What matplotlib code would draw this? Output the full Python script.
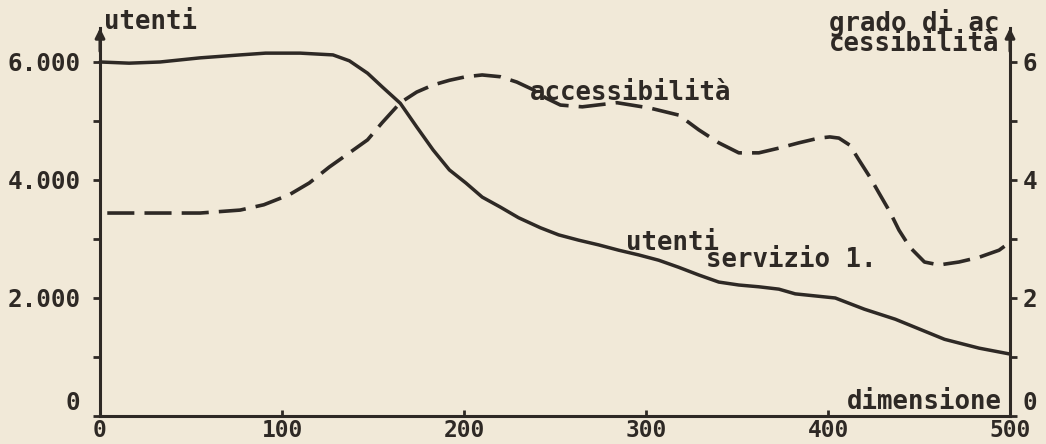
import matplotlib
matplotlib.use("Agg")
import matplotlib.pyplot as plt
from matplotlib.transforms import ScaledTranslation

# ---- data ----
dimensione_u = [0, 16, 33, 55, 77, 91, 110, 128, 137, 147, 155, 165, 174, 183, 192,
                201, 210, 220, 230, 242, 252, 263, 274, 285, 296, 307, 318, 329, 340,
                351, 362, 373, 382, 404, 420, 437, 464, 483, 500]
utenti = [6000, 5980, 6000, 6070, 6120, 6150, 6150, 6120, 6020, 5810, 5580, 5300,
          4900, 4510, 4170, 3950, 3710, 3540, 3360, 3190, 3070, 2980, 2900, 2810,
          2730, 2640, 2520, 2390, 2270, 2220, 2190, 2150, 2070, 2000, 1810, 1640,
          1300, 1150, 1050]

dimensione_a = [4, 33, 55, 77, 90, 104, 115, 126, 137, 147, 155, 165, 174, 183, 192,
                201, 210, 220, 229, 238, 245, 253, 265, 284, 302, 318, 329, 340, 351,
                362, 373, 384, 395, 401, 406, 412, 417, 423, 428, 434, 439, 445, 453,
                461, 472, 483, 494, 498]
accessibilita = [3.44, 3.44, 3.44, 3.49, 3.58, 3.75, 3.95, 4.22, 4.46, 4.68, 4.97,
                 5.31, 5.49, 5.61, 5.69, 5.75, 5.78, 5.75, 5.66, 5.53, 5.39, 5.27,
                 5.24, 5.31, 5.22, 5.10, 4.85, 4.63, 4.46, 4.46, 4.54, 4.63, 4.71,
                 4.73, 4.71, 4.59, 4.34, 4.05, 3.78, 3.46, 3.15, 2.86, 2.61, 2.56,
                 2.61, 2.69, 2.81, 2.90]

x_ticks = [0, 100, 200, 300, 400, 500]
x_ticklabels = ["0", "100", "200", "300", "400", "500"]
y_ticks = [0, 2000, 4000, 6000]
y_ticklabels = ["0", "2.000", "4.000", "6.000"]
y_minor = [1000, 3000, 5000]
y2_ticks = [0, 2, 4, 6]
y2_ticklabels = ["0", "2", "4", "6"]
y2_minor = [1, 3, 5]

# ---- style ----
bg = "#f1e9d8"
ink = "#2e2925"
font = "DejaVu Sans Mono"
fs = 17.5

fig = plt.figure(figsize=(10.46, 4.44), dpi=100, facecolor=bg)
W, H = 1046, 444
ax = fig.add_axes([100 / W, (H - 416) / H, 910 / W, 388 / H])
ax.set_facecolor(bg)
ax2 = ax.twinx()

ax.set_xlim(0, 500)
ax.set_ylim(0, 6576)
ax2.set_ylim(0, 6.576)

ax.plot(dimensione_u, utenti, color=ink, lw=2.5, solid_capstyle="round",
        solid_joinstyle="round", clip_on=False, zorder=3)
ax2.plot(dimensione_a, accessibilita, color=ink, lw=2.6, dashes=(7.5, 2.8),
         clip_on=False, zorder=3)

for s in ["top", "right"]:
    ax.spines[s].set_visible(False)
for s in ["top", "left", "bottom"]:
    ax2.spines[s].set_visible(False)
for sp in [ax.spines["left"], ax.spines["bottom"], ax2.spines["right"]]:
    sp.set_color(ink)
    sp.set_linewidth(2.2)

ax.set_xticks(x_ticks)
ax.set_xticklabels(x_ticklabels)
ax.set_yticks(y_ticks)
ax.set_yticklabels(y_ticklabels)
ax.set_yticks(y_minor, minor=True)
ax2.set_yticks(y2_ticks)
ax2.set_yticklabels(y2_ticklabels)
ax2.set_yticks(y2_minor, minor=True)

ax.tick_params(axis="x", direction="in", length=4, width=2, color=ink, pad=2,
               labelsize=16.5, labelcolor=ink)
ax.tick_params(axis="y", which="both", direction="out", length=5, width=2, color=ink,
               pad=9, labelsize=fs, labelcolor=ink)
ax2.tick_params(axis="y", which="both", direction="out", length=5, width=2, color=ink,
                pad=4, labelsize=fs, labelcolor=ink)
for lab in ax.get_xticklabels() + ax.get_yticklabels() + ax2.get_yticklabels():
    lab.set_fontfamily(font)
    lab.set_fontweight("bold")

# the "0" labels of both vertical axes sit a little above the x axis
up = ScaledTranslation(0, 11 / 72, fig.dpi_scale_trans)
for lab in [ax.get_yticklabels()[0], ax2.get_yticklabels()[0]]:
    lab.set_transform(lab.get_transform() + up)

# arrowheads on the vertical axes
for xf in [0, 1]:
    ax.annotate("", xy=(xf, 1.0), xycoords="axes fraction", xytext=(xf, 0.94),
                textcoords="axes fraction",
                arrowprops=dict(arrowstyle="-|>", color=ink, lw=2.2,
                                mutation_scale=14, shrinkA=0, shrinkB=0))

tk = dict(color=ink, fontsize=fs + 1, fontfamily=font, fontweight="bold")
ax.text(2, 6560, "utenti", ha="left", va="baseline", **tk)
ax.text(236, 5356, "accessibilità", ha="left", va="baseline", **tk)
ax.text(289, 2814, "utenti", ha="left", va="baseline", **tk)
ax.text(333, 2525, "servizio 1.", ha="left", va="baseline", **tk)
ax.text(495.5, 119, "dimensione", ha="right", va="baseline", **tk)
ax.text(494, 6520, "grado di ac", ha="right", va="baseline", **tk)
ax.text(494, 6180, "cessibilità", ha="right", va="baseline", **tk)

fig.savefig("out.png", dpi=100, facecolor=bg)
